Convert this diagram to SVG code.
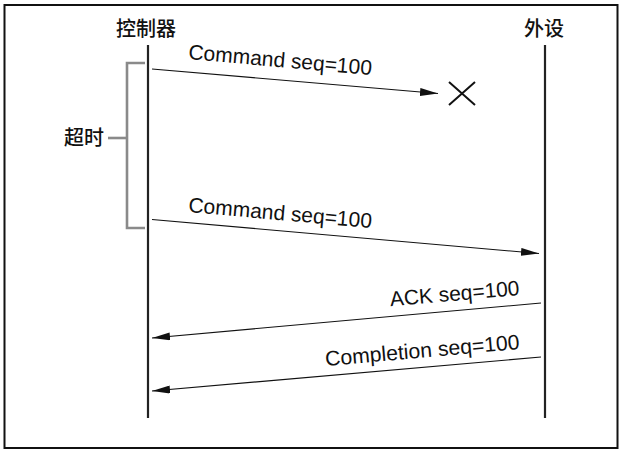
<svg xmlns="http://www.w3.org/2000/svg" width="622" height="450" viewBox="0 0 622 450">
<style>
.lbl{font-family:"Liberation Sans",Arial,sans-serif;font-size:21px;fill:#111}
.cjk{font-family:"Noto Sans CJK SC","Noto Sans",sans-serif;font-size:20px;font-weight:500;fill:#111}
.life{stroke:#222;stroke-width:2.2;fill:none}
.msg{stroke:#111;stroke-width:1.1;fill:none;marker-end:url(#ah)}
.brk{stroke:#8a8a8a;stroke-width:2.6;fill:none}
</style>
<defs>
<marker id="ah" markerWidth="18" markerHeight="8" refX="18" refY="4" orient="auto" markerUnits="userSpaceOnUse">
<path d="M0,0 L18,4 L0,8 Z" fill="#111"/>
</marker>
</defs>
<rect x="4.5" y="5" width="613" height="443" fill="#fff" stroke="#111" stroke-width="2"/>
<g id="controller">
<text class="cjk" x="146" y="36" text-anchor="middle">控制器</text>
<line class="life" x1="148" y1="45" x2="148" y2="418"/>
</g>
<g id="peripheral">
<text class="cjk" x="544" y="36" text-anchor="middle">外设</text>
<line class="life" x1="545" y1="45" x2="545" y2="418"/>
</g>
<g id="timeout">
<polyline class="brk" points="145,63 127,63 127,228 145,228"/>
<line class="brk" x1="108" y1="138" x2="127" y2="138"/>
<text class="cjk" x="84" y="145" text-anchor="middle">超时</text>
</g>
<g id="lost">
<path d="M449,82 L475,105 M475,82 L449,105" stroke="#111" stroke-width="2" fill="none"/>
</g>
<g id="connectors">
<line class="msg" x1="152" y1="69" x2="438" y2="93.5"/>
<line class="msg" x1="152" y1="219.5" x2="539" y2="253.5"/>
<line class="msg" x1="541" y1="303" x2="152" y2="338"/>
<line class="msg" x1="541" y1="357" x2="152" y2="391"/>
<text class="lbl" transform="translate(188,59) rotate(5)" textLength="184" lengthAdjust="spacingAndGlyphs">Command seq=100</text>
<text class="lbl" transform="translate(188,212) rotate(5)" textLength="184" lengthAdjust="spacingAndGlyphs">Command seq=100</text>
<text class="lbl" transform="translate(520,295) rotate(-5)" text-anchor="end" textLength="130" lengthAdjust="spacingAndGlyphs">ACK seq=100</text>
<text class="lbl" transform="translate(520,349) rotate(-5)" text-anchor="end" textLength="195" lengthAdjust="spacingAndGlyphs">Completion seq=100</text>
</g>
</svg>
